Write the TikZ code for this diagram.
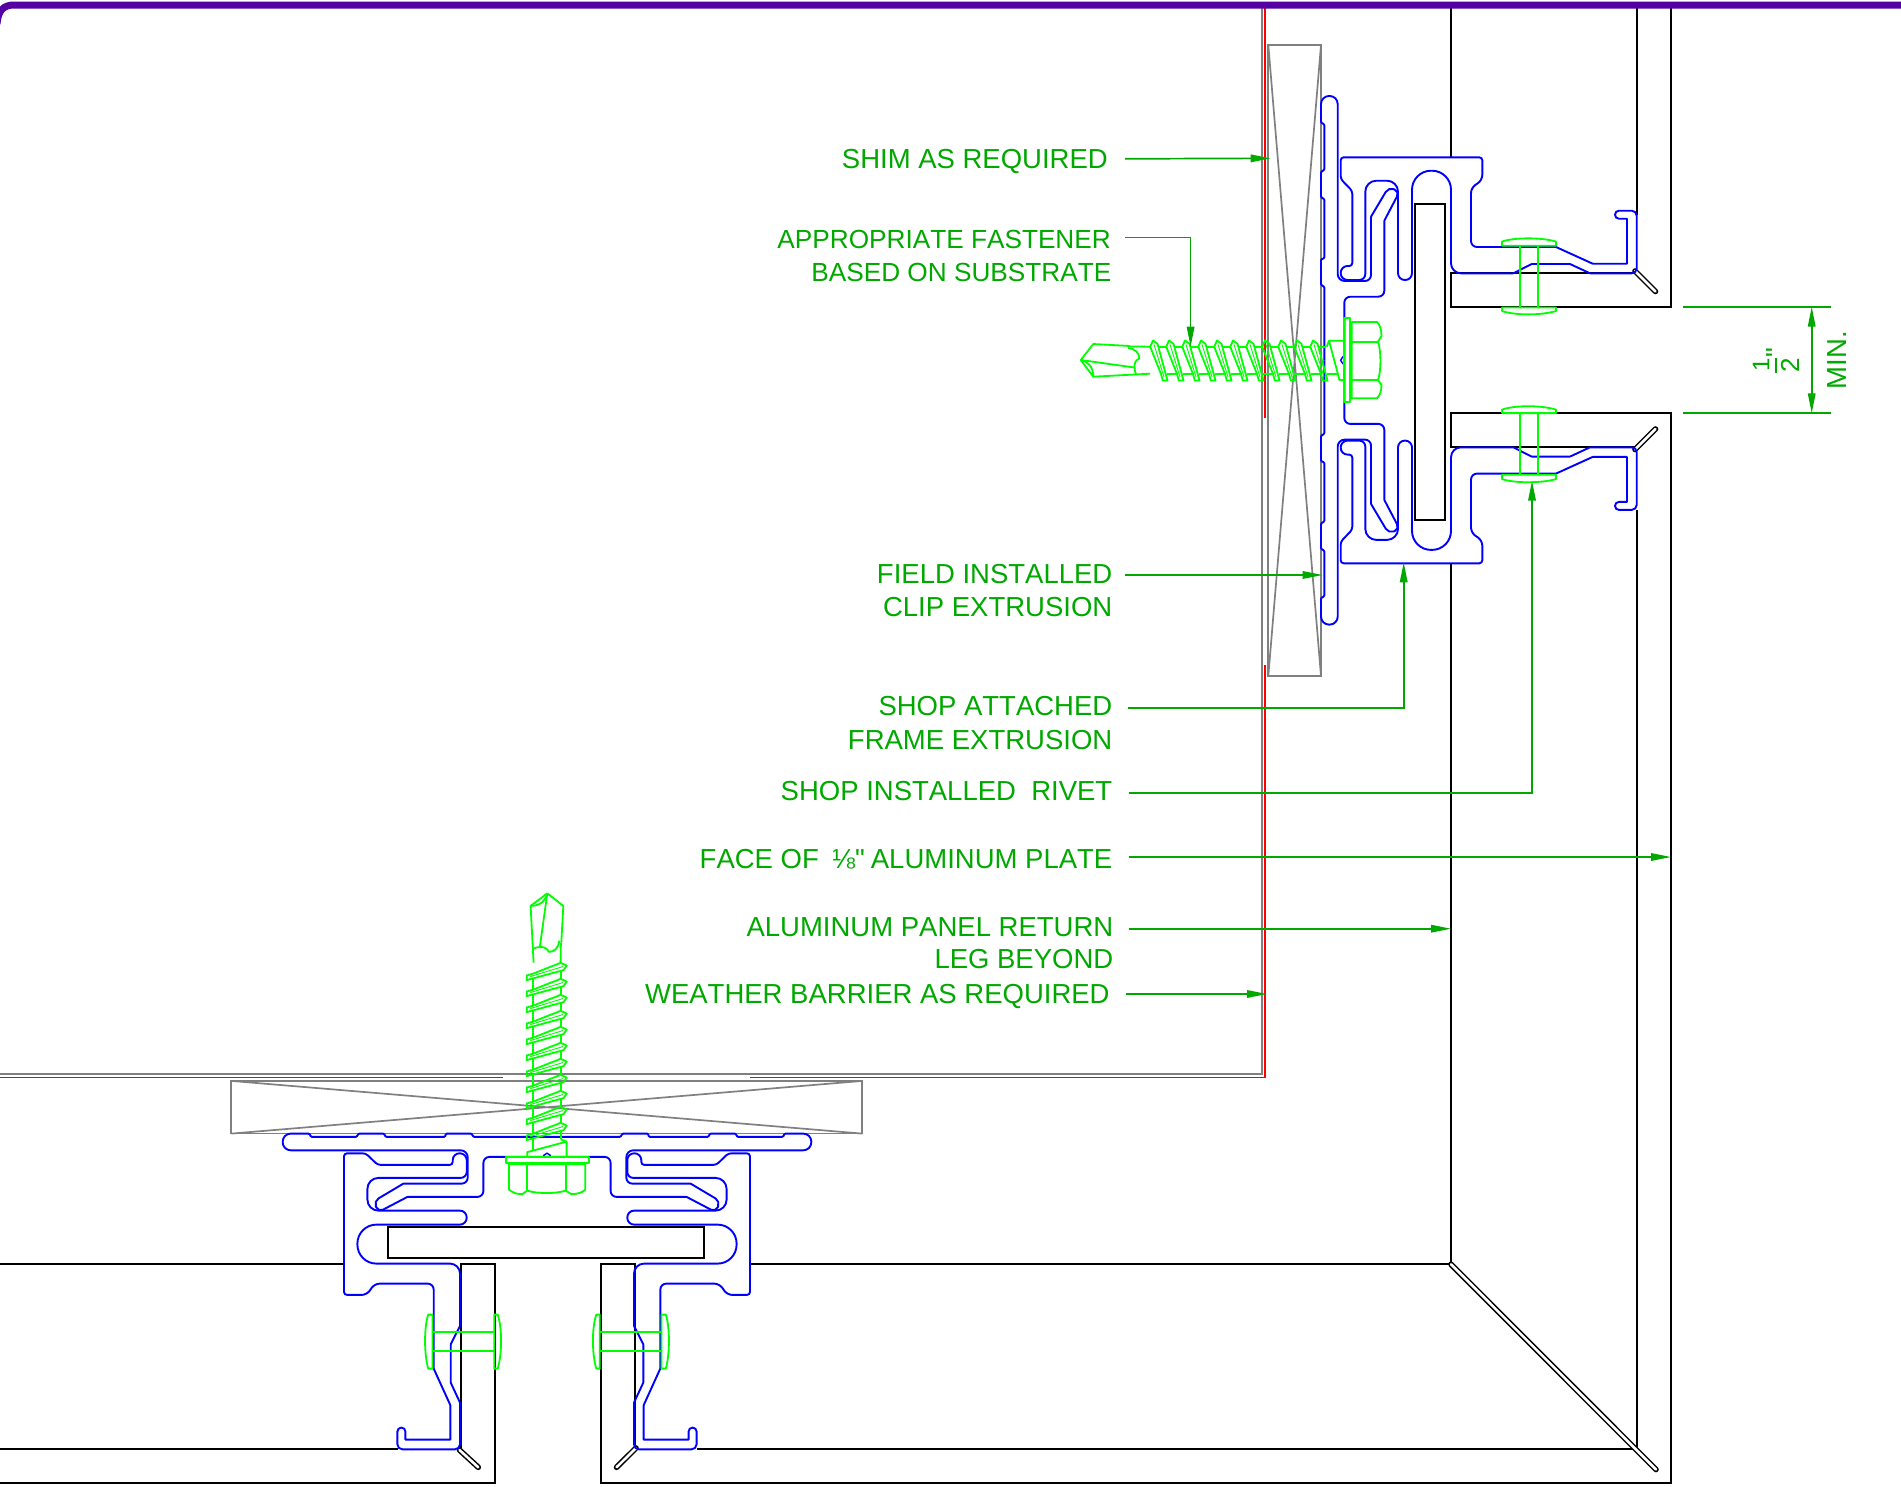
\documentclass[tikz,border=0pt]{standalone}
\usepackage{fontspec}
\setmainfont{Liberation Sans}
\newfontfamily\lf{Liberation Sans}[Kerning=Off]
\usetikzlibrary{arrows.meta}
\definecolor{leadgreen}{RGB}{0,168,0}
\definecolor{limeg}{RGB}{0,255,0}
\definecolor{bluep}{RGB}{0,0,255}
\definecolor{grayl}{RGB}{128,128,128}
\definecolor{purp}{RGB}{85,0,160}
\tikzset{
  rc/.style={rounded corners=#1pt},
  blk/.style={draw=black,line width=1.9pt,line join=miter},
  gry/.style={draw=grayl,line width=1.7pt},
  redl/.style={draw=red,line width=1.4pt},
  blu/.style={draw=bluep,line width=1.9pt},
  lim/.style={draw=limeg,line width=1.8pt,line join=round},
  limthin/.style={draw=limeg,line width=0.9pt},
  tab/.style={draw=black,line width=1.5pt,double=white,double distance=2.6pt,line cap=round},
  lead/.style={draw=leadgreen,line width=1.7pt,-{Triangle[length=20pt,width=7.5pt]}},
  plain/.style={draw=leadgreen,line width=1.7pt},
  lbl/.style={text=leadgreen,anchor=east,inner sep=0pt,font=\lf\fontsize{27.5}{33}\selectfont,text height=20pt,text depth=0pt},
  lblsm/.style={lbl,font=\lf\fontsize{26.2}{33}\selectfont},
  rot/.style={text=leadgreen,rotate=90,inner sep=0pt,font=\lf\fontsize{27.5}{33}\selectfont},
  upperm/.style={cm={1,0,0,-1,(0,720.6)}},
  lowl/.style={cm={0,-1,-1,0,(186.7,-187.4)}},
  lowr/.style={cm={0,-1,1,0,(907.3,-187.4)}}
}
\newcommand{\shimshape}{%
  \draw[gry] (1268.3,45) rectangle (1321,676);
  \draw[gry] (1268.3,676)--(1321,45) (1321,676)--(1268.3,45);
}
\newcommand{\halfprofile}{%
  \draw[blu] (1410,157.3) [rc=3] -- (1482.3,157.3) [rc=5] -- (1482.3,180) -- (1471,188) [rc=6] -- (1471,247)
    [rc=0.5] -- (1556,247) -- (1592.7,263.7) -- (1627,263.7) -- (1627,218.7)
    [rc=3.9] -- (1615,218.7) -- (1615,210.7) [rc=5] -- (1636.7,210.7) -- (1636.7,273.3)
    [rc=0.5] -- (1590,273.3) -- (1570,264) -- (1531.7,264) -- (1513.3,273.3)
    [rc=10] -- (1451,273.3) [rc=19] -- (1451,170.7) -- (1412,170.7)
    [rc=6.8] -- (1412,280) -- (1398,280) [rc=11] -- (1398,180.7) -- (1365.3,180.7)
    [rc=6] -- (1365.3,280) [rc=6.8] -- (1340.7,280) -- (1340.7,266) [rc=3] -- (1352.3,266)
    [rc=3] -- (1352.3,191) -- (1340.7,179) -- (1340.7,157.3) -- cycle;
  \draw[blu] (1344.3,360.3) [rc=6] -- (1344.3,296.7) -- (1384.3,296.7) [rc=0.5] -- (1384.3,220.7)
    [rc=5.5] -- (1399.6,191.5) -- (1388.6,187.1) [rc=0.5] -- (1371,216.7) [rc=6] -- (1371,281)
    [rc=7] -- (1337.7,281) [rc=8] -- (1337.7,96) -- (1321,96) [rc=1] -- (1321,122.7) -- (1324.3,124.3)
    -- (1324.3,170) -- (1321,171.7) -- (1321,197.3) -- (1324.3,199) -- (1324.3,258.3) -- (1321,259.3)
    -- (1321,285) -- (1324.3,286.7) -- (1324.3,360.3);
}
\newcommand{\halfrivet}{%
  \draw[lim] (1502,241.5) .. controls (1515,237.3) and (1541,237.3) .. (1556,241.5) -- (1556,245.8) -- (1502,245.8) -- cycle;
  \draw[lim] (1502,307.5) -- (1556,307.5) -- (1556,311) .. controls (1541,315.5) and (1515,315.5) .. (1502,311) -- cycle;
  \draw[lim] (1519.7,245.8) -- (1519.7,307.5) (1538,245.8) -- (1538,307.5);
}
\newcommand{\screwshape}{%
  \draw[bluep,line width=1.4pt] (1343,356.5)--(1340.6,360.3)--(1343,364);
  \draw[lim] (1080.7,360) -- (1093.3,344) -- (1130,346) (1080.7,360) -- (1093.3,376.7) -- (1150,373.7);
  \draw[lim] (1130,346.4) -- (1150.2,346.7);
  \draw[lim] (1128,348) .. controls (1136,349) and (1139,353) .. (1139.3,358.3) .. controls (1137,360) and (1135,361) .. (1134.5,365) .. controls (1134,368) and (1135,372) .. (1136,374);
  \draw[lim] (1080.7,360) -- (1134.5,367.5);
  \draw[lim] (1080.7,360) .. controls (1088,362) and (1093,366) .. (1093.3,376.7);
  \foreach \i in {0,...,10}{
    \begin{scope}[xshift=\i*16pt]
      \draw[lim] (1150.2,346.7) -- (1153,340.5) -- (1157.5,343.8) -- (1167.5,380.5) -- (1162.8,380.5) -- (1161,374) -- cycle;
      \draw[limthin] (1154,344.5) -- (1164,377);
      \draw[lim] (1158.2,346.7) -- (1166.2,346.7) (1166.8,374) -- (1177,374);
    \end{scope}
  }
  \draw[lim] (1326.7,346.7) -- (1329,340.7) -- (1344,340.7) (1329,340.7) -- (1339.5,380) -- (1344,380);
  \draw[lim] (1344,318.3) rectangle (1350,401.7);
  \draw[lim] (1351.7,322) -- (1377,322) .. controls (1380,325) and (1381.5,330) .. (1381.5,336) -- (1378,341.7) .. controls (1381,350) and (1381.5,370) .. (1378,380) -- (1381.5,385) .. controls (1381.5,391) and (1380,395) .. (1377,398.3) -- (1351.7,398.3) -- cycle;
  \draw[lim] (1351.7,341.7) -- (1378,341.7) (1351.7,380) -- (1378,380);
}
\newcommand{\halfall}{\halfprofile\halfrivet}
\begin{document}
\begin{tikzpicture}[x=1pt,y=-1pt]
\useasboundingbox (0,0) rectangle (1901,1486);
% weather barrier
\draw[gry] (0,1074) -- (1262,1074) -- (1262,5);
\draw[redl] (0,1077.7) -- (503,1077.7);
\draw[redl] (750,1077.7) -- (1265,1077.7) -- (1265,665);
\draw[redl] (1265,418) -- (1265,5);
% shims
\shimshape
\begin{scope}[lowr]\shimshape\end{scope}
% panels
\draw[blk] (1451,157.3) -- (1451,5);
\draw[blk] (1636.7,215) -- (1636.7,5);
\draw[blk] (1635,273.3) -- (1451,273.3) -- (1451,307.3) -- (1671,307.3) -- (1671,5);
\draw[blk] (1635,447.3) -- (1451,447.3) -- (1451,413.3) -- (1671,413.3) -- (1671,1483.3) -- (600.7,1483.3) -- (600.7,1264.3) -- (634.7,1264.3) -- (634.7,1449);
\draw[blk] (1636.7,510) -- (1636.7,1449.3) -- (696.7,1449.3);
\draw[blk] (1451,563.3) -- (1451,1264.3) -- (750.7,1264.3);
\draw[blk] (0,1264.3) -- (344,1264.3);
\draw[blk] (0,1449.3) -- (398,1449.3);
\draw[blk] (461,1448) -- (461,1264.3) -- (495,1264.3) -- (495,1483.3) -- (0,1483.3);
\draw[tab] (1635,271) -- (1655.5,291.5);
\draw[tab] (1635,449.5) -- (1655.5,429);
\draw[tab] (459.5,1450) -- (478.3,1467.3);
\draw[tab] (636,1448) -- (616.5,1467.3);
\draw[tab] (1451,1264.3) -- (1656,1469.5);
% glazing bars
\draw[blk] (1414.7,204) rectangle (1445.3,520);
\draw[blk] (388,1227.3) rectangle (704.3,1257.6);
% clip, frame, rivets
\halfall
\begin{scope}[upperm]\halfall\end{scope}
\begin{scope}[lowl]\halfall\end{scope}
\begin{scope}[lowr]\halfall\end{scope}
% screws
\screwshape
\begin{scope}[lowr]\screwshape\end{scope}
% top edge
\draw[draw=purp,line width=7pt] (-3,24) .. controls (-2,10) and (4,5) .. (14,5) -- (1904,5);
% labels
\node[lbl] (shim) at (1108,158.8) {SHIM AS REQUIRED};
\node[lblsm] (fastA) at (1111,238.8) {APPROPRIATE FASTENER};
\node[lblsm] (fastB) at (1111.5,271.6) {BASED ON SUBSTRATE};
\node[lbl] (fieldA) at (1112.5,573.5) {FIELD INSTALLED};
\node[lbl] (fieldB) at (1112.5,606.4) {CLIP EXTRUSION};
\node[lbl] (shopA) at (1112.5,705.6) {SHOP ATTACHED};
\node[lbl] (shopB) at (1112.5,739.6) {FRAME EXTRUSION};
\node[lbl] (rivet) at (1112.5,790.5) {SHOP INSTALLED\ \ RIVET};
\node[lbl] (face) at (1112.5,858.4) {FACE OF\hspace{13.3pt}⅛"\hspace{6pt}ALUMINUM PLATE};
\node[lbl] (panA) at (1113.5,926.3) {ALUMINUM PANEL RETURN};
\node[lbl] (panB) at (1113.5,958) {LEG BEYOND};
\node[lbl] (wb) at (1109.8,993) {WEATHER BARRIER AS REQUIRED};
% leader targets
\coordinate (tShim) at (1270.7,158.3);
\coordinate (tFast) at (1190.6,346.7);
\coordinate (kFast) at (1190.6,237.6);
\coordinate (tField) at (1322.7,575);
\coordinate (tFrame) at (1403.7,562.3);
\coordinate (kFrame) at (1403.7,708);
\coordinate (tRivet) at (1532,480.7);
\coordinate (kRivet) at (1532,793);
\coordinate (tFace) at (1671,857);
\coordinate (tPan) at (1451,928.7);
\coordinate (tWb) at (1267,994);
\draw[lead] ([xshift=17pt]shim.east) -- (tShim);
\draw[lead] ([xshift=14pt,yshift=1.2pt]fastA.east) -- (kFast) -- (tFast);
\draw[lead] ([xshift=12.5pt,yshift=-1.5pt]fieldA.east) -- (tField);
\draw[lead] ([xshift=15pt,yshift=-2.4pt]shopA.east) -- (kFrame) -- (tFrame);
\draw[lead] ([xshift=16.2pt,yshift=-2.5pt]rivet.east) -- (kRivet) -- (tRivet);
\draw[lead] ([xshift=16.2pt,yshift=1.4pt]face.east) -- (tFace);
\draw[lead] ([xshift=15.2pt,yshift=-2.4pt]panA.east) -- (tPan);
\draw[lead] ([xshift=16.5pt,yshift=-1pt]wb.east) -- (tWb);
% dimension
\coordinate (dA) at (1811.7,306.7);
\coordinate (dB) at (1811.7,413.3);
\coordinate (eA) at (1683.3,306.7);
\coordinate (eB) at (1683.3,413.3);
\coordinate (fA) at (1831,306.7);
\coordinate (fB) at (1831,413.3);
\draw[plain] (eA) -- (fA);
\draw[plain] (eB) -- (fB);
\draw[draw=leadgreen,line width=1.7pt,{Triangle[length=20pt,width=7.5pt]}-{Triangle[length=20pt,width=7.5pt]}] (dA) -- (dB);
\node[rot] (dmin) at (1837.3,360) {MIN.};
\node[rot,font=\lf\fontsize{24}{28}\selectfont] (dnum) at (1761,365) {1};
\node[rot] (dq) at (1776,353) {"};
\node[rot,font=\lf\fontsize{26}{30}\selectfont] (dden) at (1790,365) {2};
\draw[plain] (1776,357.5) -- (1776,372.5);
\end{tikzpicture}
\end{document}
